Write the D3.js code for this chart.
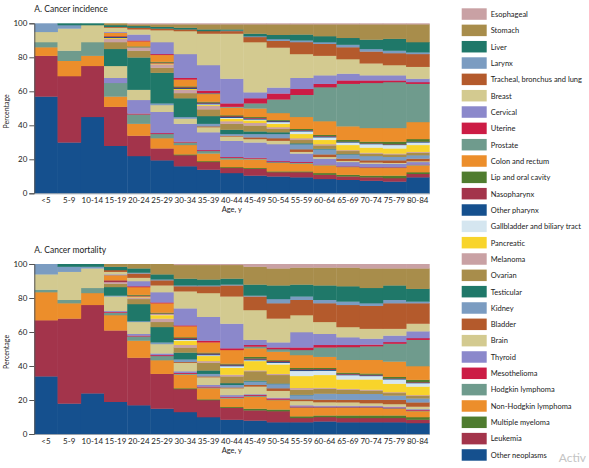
<!DOCTYPE html>
<html><head><meta charset="utf-8">
<script src="https://cdn.jsdelivr.net/npm/d3@7"></script>
<style>
body{margin:0;background:#fff}
svg text{font-family:Lato,"Open Sans",sans-serif;fill:#222}
</style>
</head><body>
<svg id="c" width="589" height="468"></svg>
<script>
// ---------- data ----------
const ageGroups = ["<5","5-9","10-14","15-19","20-24","25-29","30-34","35-39","40-44","45-49","50-54","55-59","60-64","65-69","70-74","75-79","80-84"];

// stacking order, bottom -> top (legend shows it reversed)
const stackOrder = ["Other neoplasms","Leukemia","Multiple myeloma","Non-Hodgkin lymphoma","Hodgkin lymphoma","Mesothelioma","Thyroid","Brain","Bladder","Kidney","Testicular","Ovarian","Melanoma","Pancreatic","Gallbladder and biliary tract","Other pharynx","Nasopharynx","Lip and oral cavity","Colon and rectum","Prostate","Uterine","Cervical","Breast","Tracheal, bronchus and lung","Larynx","Liver","Stomach","Esophageal"];

const yTicks = [0,20,40,60,80,100];

// percentage of cases per age group, values in stackOrder
const incidence = [
 [57,24,0,5,3,0,0,6,0,5,0,0,0,0,0,0,0,0,0,0,0,0,0,0,0,0,0,0],
 [30,39,0,9,6,0,0,13,0,2,0,0,0,0,0,0,0,0,0,0,0,0,0,0,0,1,0,0],
 [45,30,0,6,8,0,0,10,0,0,0,0,0,0,0,0,0,0,0,0,0,0,0,0,0,1,0,0],
 [28,23,0,6,8,0,3,7,0,0,10,4,2,0.5,0,0.5,0.5,0,2,0,0,0.5,2.5,0.5,0,1,1,0],
 [22,12,0,7,5.5,0.5,8,6,0,0,19,4,2,0,0,0,0,0.5,3,0,0.5,3.5,3,1,0,1,1,0.5],
 [19.5,7,0,6,2.5,0.5,12.5,4,0,1,18,3,2,0.5,0,0,0.5,0.5,4,0,0.5,7,7,1,0,1,1.5,0.5],
 [16,6.5,0.5,5.5,1.5,0.5,10.5,3,0,1,11,3,2,0.5,0,0.5,0.5,0.5,4,0,1,14,13.5,1,0,1,2,0.5],
 [14,4.5,0.5,4.5,1.5,0.5,10.5,3,0.5,1.5,4.5,4,2,0.5,0.5,0.5,0.5,0.5,4.5,0.5,1.5,15,18.5,1.5,0,1,3,0.5],
 [12,3,0.5,4.5,1,0.5,9.5,2.5,0.5,1,2.5,3.5,1.5,1.5,0.5,0.5,0.5,0.5,4.5,0.5,2,14.5,26.5,1.5,0.3,0.7,3,0.5],
 [10.5,4,0.5,5,0.5,0.5,9,2,1,2,1.5,3.5,1.5,1.5,0.5,0.5,0.5,0.5,5,3,3,3.5,29.5,3,0.5,1.5,5.5,0.5],
 [10,2.5,0.5,5,0.5,0.5,10,2,1.5,2.5,1,2,1,2,1,0.5,0.3,0.5,4,8,3.5,3.5,23.5,4,1,2.5,6.2,0.5],
 [9.5,3,0.5,4.5,0.5,0.5,5,1,1.5,3,0.5,2,1,2.5,1.5,0.5,0.3,0.7,7,13,3.5,6.5,14,7,1,3.5,6,0.5],
 [8.5,2.5,1,4.5,0.3,0.2,3.5,1,1.5,3,0.3,2,0.7,2.5,1.5,0.5,0.3,0.7,8,20,2,5,11.5,7,1,3.5,7,0.5],
 [8,2,1,4.5,0.3,0.2,2.5,0.7,1.3,2.5,0.2,1.8,0.5,3,1.5,0.3,0.2,1,8,25,2,4,8.5,7,1.5,4,8,0.5],
 [7.5,2,1,4.5,0.3,0.2,2,0.7,1.3,2.5,0,1.5,0.5,3,2,0.3,0.2,1,8,26.5,1.5,3,7,7,1.5,5.5,9,0.5],
 [7,2,1.5,4.5,0.3,0.2,2,0.5,1.5,2,0,1.5,0.5,3,2,0.3,0.2,1.5,8,27,1,3,6,7,1.5,7,8.5,0.5],
 [9.5,2,1,4,0.3,0.2,1.5,0.5,1.5,2,0,1.5,0.5,4,1.5,0.3,0.2,1.5,10,22.5,1,2,7,7.5,1,6,10.5,0.5]
];

// percentage of deaths per age group, values in stackOrder
const mortality = [
 [34,33,0,16.5,1.5,0,0,9,0,6,0,0,0,0,0,0,0,0,0,0,0,0,0,0,0,0,0,0],
 [18,50,0,9,2,0,0,16.5,0,3,0,0,0,0,0,0,0,0,0,0,0,0,0,0,0,1.5,0,0],
 [24,52,0,7,3,0,0,11.5,0,1,0,0,0,0,0,0,0,0,0,0,0,0,0,0,0,1.5,0,0],
 [19,42,0,9,1.5,0.5,0.5,8.5,0,0.5,5,2,1,0,0,0,1,0,3,0,0,0.5,1.5,1,0,2,1.5,0],
 [17,28,0,10,2.5,0.5,1,7,0,0.5,10,3,1,0.5,0,0,0.5,0.5,4.5,0,0.5,3,2,2.5,0.5,2.5,2.5,0],
 [15,20.5,0,8,2.5,0.5,1,5.5,0,1,9,3,2,2,0.5,0,0.5,0.5,5.5,0,0.5,6,4,3,0.5,3,6,0],
 [13,13.5,0.5,8,0.5,0.5,1,5,0.5,1.5,4,3,1.5,2.5,0.5,0.5,0.5,0.5,6.5,0,0.5,10,10,3,0.5,4,8,0.5],
 [10,10,0.5,6.5,0.5,0.5,1,4.5,0.5,1.5,2,4.5,1,3,0.5,0.5,0.5,0.5,6,0,1,14,14,4,0.5,3.5,8.5,0.5],
 [8.5,7,0.5,5,0.5,0.5,1,4,0.5,1.5,1,4,1,4,1,0.5,0.5,0.5,8,0,1,14.5,16,6.5,0.5,3.5,8,0.5],
 [8,6,1,7,0.5,0.5,0.5,4.5,1,2,0.5,5.5,0.5,5.5,0.5,0.5,0.5,1,5,1,1,3,17.5,8,0.5,6.5,10.5,1.5],
 [7,6.5,1,5.5,0.3,0.7,0.5,4,1.5,2.5,0.3,5,0.7,5.5,1,0.5,0.5,0.5,5,1.5,1,3,14,9,2.5,8,10,2.5],
 [7,2.5,1,5,0.3,0.5,0.7,2.5,1,2.5,0.2,3,1,7,3,0.5,0.5,0.8,7.5,3,1.5,9,10,9,2,7,10,2],
 [7.5,2.5,1,4.5,0.3,0.4,0.6,2,1.5,3.5,0,3,0.5,7.5,2.5,0.5,0.5,0.7,6.5,5.5,1.5,6.5,7,11,2,8.5,10.5,2],
 [7,2.5,1.5,4.5,0.3,0.4,0.5,2,1.5,3.5,0,2.5,0.5,5.5,2.5,0.4,0.4,0.7,7.5,7.5,1.3,4.5,6,13,2,9,11,2],
 [7,2.5,1.5,4.5,0.3,0.4,0.5,1.5,2,3.5,0,2,0.5,6,2,0.4,0.4,0.7,8,8,1,3.5,5.8,13.5,1.5,9,11.5,2.5],
 [7,2.5,1.5,4,0.3,0.4,0.5,1.5,2.5,2.5,0,1.5,0.5,5,2.5,0.3,0.3,0.9,9,10.5,1,3.8,4,15,2,8.5,10,2.5],
 [6.5,2,1.5,3.5,0.3,0.4,0.5,1.5,2.5,2.3,0,1.5,0.5,5,2,0.3,0.3,1.4,8,15.5,1,4,4.5,12,1,7.5,12,2.5]
];

// colour cycle, in legend order (top of legend first)
const palette = ["#c9a1a4","#a88d4b","#1f7869","#7b9cc1","#b45a2c","#d3ca90","#8b88cb","#cc1c45","#6f9b8d","#ec8e2b","#4f7c2f","#a3344b","#15508e","#d5e6f0","#f8d42b"];

// ---------- drawing ----------
const svg = d3.select("#c");
const legendOrder = stackOrder.slice().reverse();
const color = d3.scaleOrdinal().domain(legendOrder).range(legendOrder.map((d,i)=>palette[i % palette.length]));
const x = d3.scaleBand().domain(ageGroups).range([34.3, 429.3]).padding(0);

function drawChart(rows, top, title) {
  const g = svg.append("g");
  const h = 170;
  const data = rows.map((r,i)=>{const o={age:ageGroups[i]}; stackOrder.forEach((k,j)=>o[k]=r[j]); return o;});
  const series = d3.stack().keys(stackOrder).offset(d3.stackOffsetExpand)(data);
  const y = d3.scaleLinear().domain([0,1]).range([top+h, top]);
  const yAxisScale = d3.scaleLinear().domain([0,100]).range([top+h, top]);

  g.selectAll("g.s").data(series).join("g").attr("class","s")
    .attr("fill", d=>color(d.key))
    .selectAll("rect").data(d=>d).join("rect")
      .attr("x", d=>x(d.data.age))
      .attr("width", x.bandwidth()+0.4)
      .attr("y", d=>y(d[1]))
      .attr("height", d=>Math.max(0, y(d[0])-y(d[1]) + (d[1]-d[0] > 0 ? 0.3 : 0)));

  const ya = g.append("g").attr("transform","translate(34.3,0)")
    .call(d3.axisLeft(yAxisScale).tickValues(yTicks).tickSize(5).tickPadding(2));
  ya.selectAll("path,line").attr("stroke","#555");
  ya.selectAll("text").style("font-size","8px").attr("fill","#222");

  const xa = g.append("g").attr("transform",`translate(0,${top+h})`)
    .call(d3.axisBottom(x).tickSize(0).tickPadding(4));
  xa.select("path").attr("stroke","#9aa3ad");
  xa.selectAll("text").style("font-size","8px").attr("fill","#222");

  g.append("text").attr("x",34.3).attr("y",top-11).text(title).style("font-size","8.5px");
  g.append("text").attr("x",(34.3+429.3)/2).attr("y",top+h+19).attr("text-anchor","middle")
    .text("Age, y").style("font-size","7.5px");
  g.append("text").attr("transform",`translate(9,${top+h/2+3}) rotate(-90)`).attr("text-anchor","middle")
    .text("Percentage").style("font-size","7px");
}

drawChart(incidence, 23.3, "A. Cancer incidence");
drawChart(mortality, 264, "A. Cancer mortality");

// legend
const lg = svg.append("g").attr("transform","translate(461.7,8.3)");
const item = lg.selectAll("g").data(legendOrder).join("g")
  .attr("transform",(d,i)=>`translate(0,${i*16.33})`);
item.append("rect").attr("width",25).attr("height",11.5).attr("fill",d=>color(d));
item.append("text").attr("x",29).attr("y",8.6).text(d=>d).style("font-size","7.5px");

// watermark remnant
svg.append("text").attr("x",586).attr("y",462).attr("text-anchor","end").text("Activ")
  .style("font-size","12px").style("fill","#c4c4c4");
</script>
</body></html>
